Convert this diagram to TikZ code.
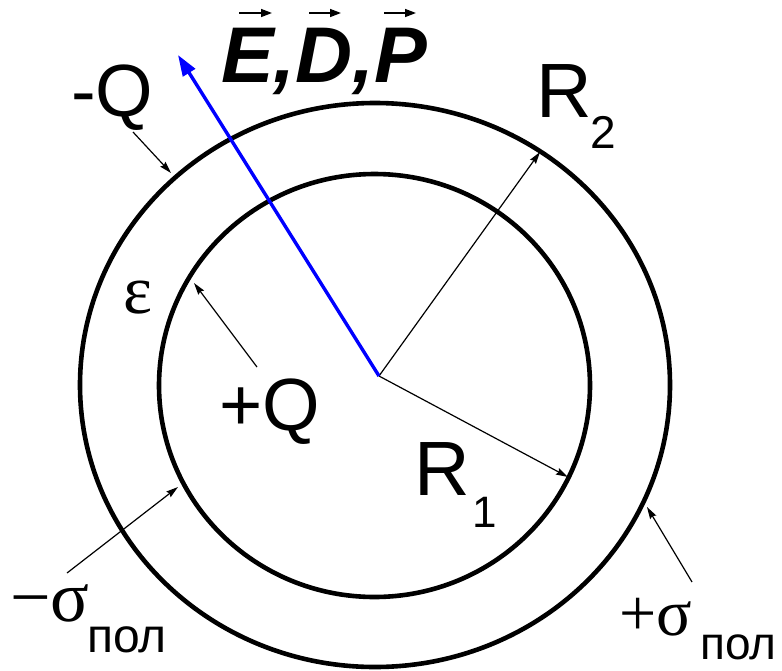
\documentclass[tikz,border=0pt]{standalone}
\usepackage{fontspec}
\setmainfont{Liberation Sans}
\newfontfamily\seriffont{Liberation Serif}
\usetikzlibrary{arrows.meta}
\tikzset{
  ring/.style={line width=4.6pt},
  thinarrow/.style={line width=1.2pt,-{Stealth[length=12pt,width=7pt,inset=1.5pt]}},
  bluearrow/.style={line width=3.4pt,draw={rgb,255:red,0;green,0;blue,255},-{Triangle[length=21pt,width=14pt]}},
  vecarrow/.style={line width=1.5pt,-{Triangle[length=11pt,width=8pt]}},
  lbl/.style={inner sep=0pt,anchor=base west},
}
\begin{document}
\begin{tikzpicture}[x=1pt,y=-1pt]
\useasboundingbox (0,0) rectangle (782,670);
% circles
\draw[ring] (375,385) ellipse [x radius=295pt, y radius=282pt];
\draw[ring] (374.5,385.5) ellipse [x radius=215.5pt, y radius=211.5pt];
% centre and end points
\coordinate (O) at (379,376);
\coordinate (R2end) at (540,152);
\coordinate (R1end) at (568,477);
\coordinate (Eend) at (178,55);
% radii
\draw[thinarrow] (O) -- (R2end);
\draw[thinarrow] (O) -- (R1end);
% field vector
\draw[bluearrow] (O) -- (Eend);
% labels
\node[lbl] (EDP) at (221,82) {\fontsize{79}{79}\selectfont\bfseries\itshape E,D,P};
\draw[vecarrow] (239,13) -- (272,13);
\draw[vecarrow] (309,13) -- (341,13);
\draw[vecarrow] (384,13) -- (416,13);
\node[lbl] (mQ) at (71,116) {\fontsize{74}{74}\selectfont -Q};
\node[lbl] (pQ) at (219,430) {\fontsize{74}{74}\selectfont +Q};
\node[lbl] (R2) at (536,117) {\fontsize{77}{77}\selectfont R};
\node[lbl] (R2s) at (590,148) {\fontsize{46}{46}\selectfont 2};
\node[lbl] (R1) at (414,495) {\fontsize{77}{77}\selectfont R};
\node[lbl] (R1s) at (472,527) {\fontsize{44}{44}\selectfont 1};
\node[lbl] (eps) at (123,313) {\fontsize{69}{69}\selectfont\seriffont ε};
\node[lbl] (msig) at (10,621) {\fontsize{72}{72}\selectfont\seriffont −σ};
\node[lbl] (msigs) at (87,652) {\fontsize{48}{48}\selectfont пол};
\node[lbl] (psig) at (619,635) {\fontsize{66}{66}\selectfont\seriffont +σ};
\node[lbl] (psigs) at (700,659) {\fontsize{46}{46}\selectfont пол};
% label pointers
\coordinate (mQa) at (133,132);  \coordinate (mQb) at (171,173);
\coordinate (epsa) at (257,367); \coordinate (epsb) at (194,283);
\coordinate (msa) at (67,573);   \coordinate (msb) at (178,487);
\coordinate (psa) at (692,582);  \coordinate (psb) at (647,507);
\draw[thinarrow] (mQa) -- (mQb);
\draw[thinarrow] (epsa) -- (epsb);
\draw[thinarrow] (msa) -- (msb);
\draw[thinarrow] (psa) -- (psb);
\end{tikzpicture}
\end{document}
